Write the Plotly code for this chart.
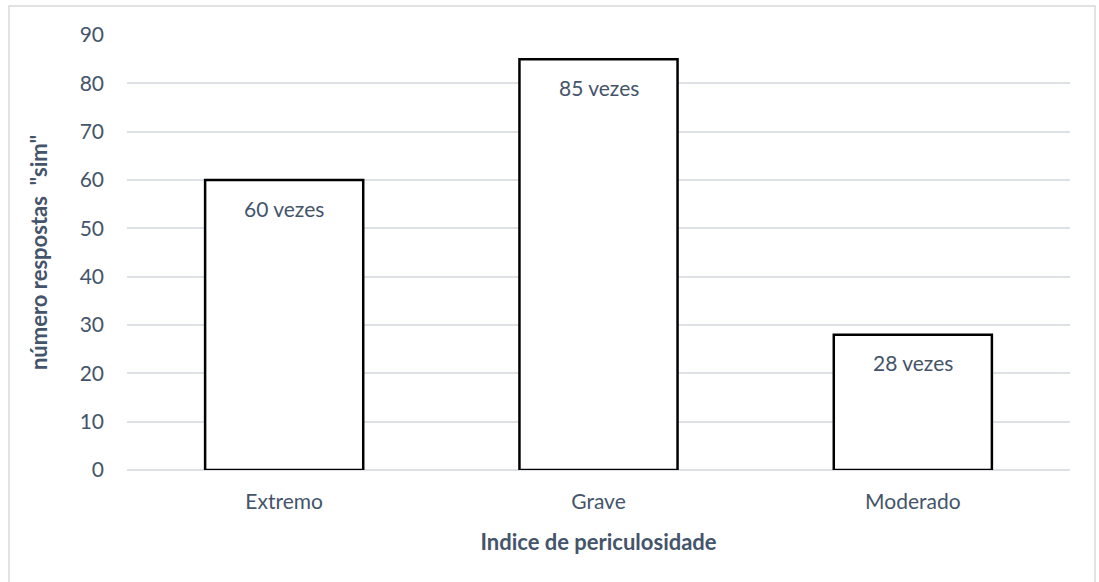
import plotly.graph_objects as go

categories = ["Extremo", "Grave", "Moderado"]
values = [60, 85, 28]
labels = ["60 vezes", "85 vezes", "28 vezes"]
y_ticks = [0, 10, 20, 30, 40, 50, 60, 70, 80, 90]

TEXT = "#44546A"
FONT = "Lato"
W, H = 1099, 582
L, R, T, B = 127, 29, 35, 112
pw, ph = W - L - R, H - T - B

fig = go.Figure()
fig.add_trace(go.Bar(
    x=categories, y=values,
    marker=dict(color="white", line=dict(color="black", width=2.5)),
    width=0.503,
    hoverinfo="skip",
))

for c, v, t in zip(categories, values, labels):
    fig.add_annotation(x=c, y=v, text=t, showarrow=False, yshift=-28,
                       font=dict(family=FONT, size=21, color=TEXT))

def px_x(x):
    return (x - L) / pw

def px_y(y):
    return (H - B - y) / ph

fig.add_shape(type="rect", xref="paper", yref="paper",
              x0=px_x(9), x1=px_x(1095), y0=px_y(590), y1=px_y(6),
              line=dict(color="#D9D9D9", width=1.5), layer="below")

fig.update_layout(
    width=W, height=H,
    margin=dict(l=L, r=R, t=T, b=B, autoexpand=False),
    paper_bgcolor="white", plot_bgcolor="white",
    showlegend=False,
    bargap=0.497,
    xaxis=dict(
        title=dict(text="<b>Indice de periculosidade</b>", standoff=22,
                   font=dict(family=FONT, size=22, color=TEXT)),
        tickfont=dict(family=FONT, size=21, color=TEXT),
        showline=False, ticks="", showgrid=False,
        ticklabelstandoff=17,
    ),
    yaxis=dict(
        title=dict(text="<b>número respostas  \"sim\"</b>", standoff=25,
                   font=dict(family=FONT, size=22, color=TEXT)),
        range=[0, 90], tickvals=y_ticks,
        tickfont=dict(family=FONT, size=21, color=TEXT),
        showgrid=True, gridcolor="#DDE1E6", gridwidth=1.5,
        zeroline=True, zerolinecolor="#DDE1E6", zerolinewidth=1.5,
        ticks="", ticklabelstandoff=22,
    ),
)

fig.write_html(
    "out.html",
    config={"displayModeBar": False},
    post_script="document.body.style.margin='0';document.body.style.overflow='hidden';",
)
